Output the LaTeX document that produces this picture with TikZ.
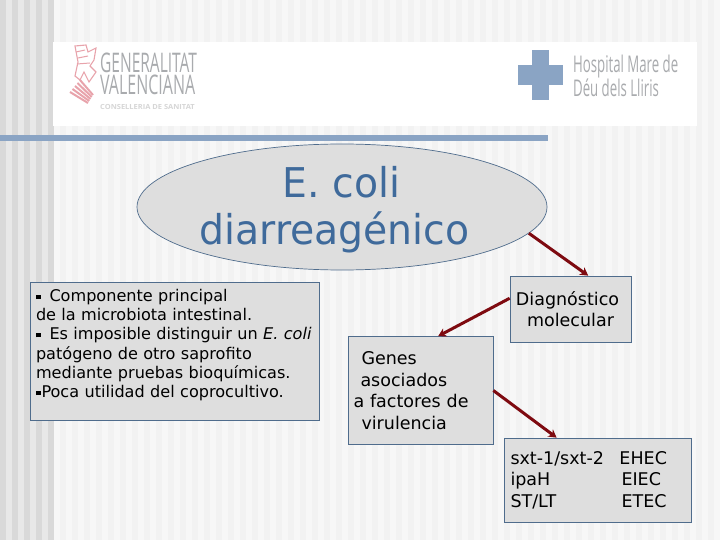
\documentclass[tikz,border=0pt]{standalone}
\usepackage{fontspec}
\usepackage{graphicx}
\setmainfont{DejaVu Sans}
\newfontfamily\logofont{Open Sans}
\usetikzlibrary{arrows.meta, shapes.geometric}
\definecolor{bandblue}{HTML}{8AA4C4}
\definecolor{titleblue}{HTML}{3F6A9B}
\definecolor{edgeblue}{HTML}{4F6C8C}
\definecolor{boxgray}{HTML}{DEDEDE}
\definecolor{arrowred}{HTML}{7E0A10}
\definecolor{logogray}{HTML}{A9ABAE}
\definecolor{logopink}{HTML}{E8A3AB}
\newcommand{\bul}{\rule[2.5pt]{4.5pt}{4.5pt}}
\tikzset{
  infobox/.style={draw=edgeblue, line width=0.7pt, fill=boxgray, inner sep=0pt,
    font=\fontsize{16.1}{19.2}\selectfont, align=left},
  largebox/.style={infobox, font=\fontsize{17.5}{21.6}\selectfont},
  linkarrow/.style={-{Stealth[length=8pt,width=9pt]}, arrowred, line width=3pt},
  logotext/.style={logogray, inner sep=0pt, anchor=west, align=left, transform shape}
}
\begin{document}
\begin{tikzpicture}[x=1pt, y=-1pt, >=Stealth]
  \useasboundingbox (0,0) rectangle (720,540);

  % Striped slide background
  \fill[white!97!black] (0,0) rectangle (720,540);
  \foreach \x in {60,72,...,708}
    \fill[white!95!black] (\x,0) rectangle +(6,540);
  \fill[white!91!black] (0,0) rectangle (53,540);
  \foreach \x in {0,12,...,48}
    \fill[white!85!black] (\x,0) rectangle +(5.5,540);

  % Logo strip and rule
  \fill[white] (53,42) rectangle (697,126);
  \fill[bandblue] (0,135) rectangle (548,141);

  % Left logo: shield
  \draw[logopink, line width=1.1pt, fill=white]
    (75,46) -- (86,45) -- (88,52) -- (96,48) -- (94,60) -- (90,66)
    -- (96,72) -- (89,82) -- (84,72) -- (80,80) -- (75,76) -- (78,62) -- cycle;
  \draw[logopink, line width=1pt] (76,52) -- (85,50) (78,58) -- (88,56) (77,64) -- (90,63);
  \foreach \i in {0,1,2,3,4}
    \draw[logopink, line width=2pt] (70+2.5*\i,92-3*\i) -- (88+1.25*\i,103-2*\i);
  \node[logotext, xscale=0.575, font=\logofont\fontsize{27}{22}\selectfont] (genword) at (100,74)
    {GENERALITAT\\\scalebox{1.03}[1]{VALENCIANA}};
  \node[logotext, xscale=1.07, white!84!black, font=\logofont\bfseries\fontsize{7}{7}\selectfont] (consword) at (100,106.5) {CONSELLERIA DE SANITAT};

  % Right logo: cross
  \fill[bandblue] (532,50) rectangle (549,100);
  \fill[bandblue] (518,65) rectangle (563,85);
  \node[logotext, xscale=0.575, font=\logofont\fontsize{23}{23}\selectfont] (hospword) at (573,76)
    {Hospital Mare de\\Déu dels Lliris};

  % Title ellipse
  \node[ellipse, draw=edgeblue, line width=0.7pt, fill=boxgray, minimum width=410pt,
    minimum height=126pt, inner sep=0pt] (title) at (342,207) {};
  \node[titleblue, xscale=0.96, transform shape, font=\fontsize{41}{47}\selectfont, align=center, inner sep=0pt]
    (titletext) at (334.5,210) {\hspace{15pt}E. coli\\diarreagénico};

  % Boxes
  \node[infobox, minimum width=289pt, minimum height=138pt, text width=277pt] (notes) at (174.5,351)
    {\bul\hspace{9pt}Componente principal\\
     de la microbiota intestinal.\\
     \bul\hspace{9pt}Es imposible distinguir un \textit{E. coli}\\
     patógeno de otro saprofito\\
     mediante pruebas bioquímicas.\\
     \bul\hspace{1pt}Poca utilidad del coprocultivo.\\[-4pt]\mbox{}};
  \node[largebox, minimum width=121pt, minimum height=66pt, align=center] (diag) at (570.5,309)
    {\hspace{-6pt}Diagnóstico\\molecular};
  \node[largebox, minimum width=145pt, minimum height=108pt, text width=134pt] (genes) at (420.5,390.5)
    {\hspace{8pt}Genes\\
     \hspace{7pt}asociados\\
     a factores de\\
     \hspace{8pt}virulencia};
  \node[largebox, minimum width=187pt, minimum height=84pt, text width=174pt] (genlist) at (597.5,480)
    {\makebox[109pt][l]{sxt-1/sxt-2}EHEC\\
     \makebox[111pt][l]{ipaH}EIEC\\
     \makebox[111pt][l]{ST/LT}ETEC};

  % Arrows
  \draw[linkarrow] (title.-8) -- (diag.62);
  \draw[linkarrow] (diag.170.6) -- (genes.72);
  \draw[linkarrow] (genes.east) -- (genlist.134);
\end{tikzpicture}
\end{document}
